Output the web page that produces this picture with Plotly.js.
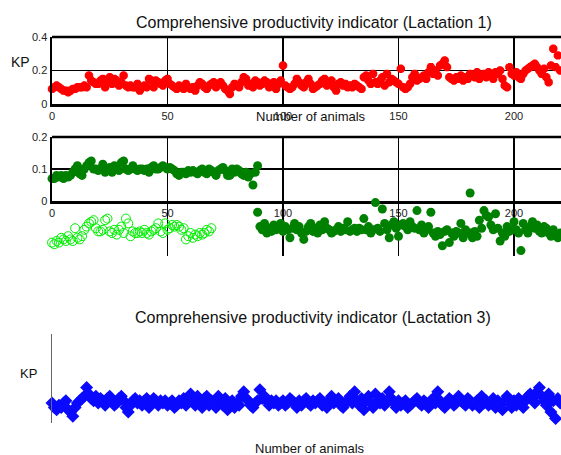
<!DOCTYPE html>
<html>
<head>
<meta charset="utf-8">
<script src="https://cdn.plot.ly/plotly-3.0.1.min.js"></script>
<style>html,body{margin:0;padding:0;background:#fff;}#chart{width:561px;height:455px;}</style>
</head>
<body>
<div id="chart"></div>
<script>
// Lactation 1 (KP per animal, index 0..220)
const lact1 = [
0.09,0.10,0.11,0.10,0.09,0.08,0.08,0.07,0.08,0.09,
0.09,0.10,0.10,0.10,0.11,0.10,0.17,0.14,0.13,0.12,
0.12,0.14,0.15,0.10,0.13,0.16,0.12,0.15,0.14,0.11,
0.13,0.17,0.11,0.10,0.11,0.10,0.10,0.12,0.08,0.10,
0.11,0.10,0.15,0.14,0.10,0.14,0.13,0.12,0.11,0.14,
0.15,0.12,0.11,0.10,0.09,0.11,0.10,0.09,0.12,0.10,
0.09,0.10,0.08,0.11,0.13,0.12,0.10,0.09,0.11,0.12,
0.13,0.10,0.12,0.13,0.11,0.09,0.08,0.06,0.10,0.12,
0.11,0.10,0.13,0.16,0.15,0.11,0.12,0.10,0.14,0.13,
0.11,0.12,0.14,0.13,0.10,0.12,0.13,0.09,0.12,0.14,
0.23,0.11,0.10,0.09,0.10,0.12,0.15,0.13,0.11,0.10,
0.13,0.15,0.12,0.09,0.10,0.11,0.12,0.14,0.15,0.11,
0.13,0.14,0.10,0.08,0.12,0.13,0.11,0.12,0.10,0.11,
0.10,0.12,0.11,0.10,0.09,0.16,0.17,0.14,0.12,0.18,
0.13,0.12,0.14,0.16,0.11,0.18,0.13,0.15,0.14,0.13,
0.12,0.21,0.10,0.09,0.10,0.12,0.16,0.18,0.14,0.15,
0.16,0.17,0.15,0.19,0.22,0.18,0.20,0.17,0.23,0.24,
0.26,0.22,0.16,0.15,0.14,0.16,0.15,0.17,0.14,0.16,
0.15,0.18,0.17,0.16,0.19,0.15,0.17,0.18,0.16,0.19,
0.17,0.15,0.19,0.18,0.20,0.15,0.11,0.10,0.22,0.18,
0.17,0.19,0.16,0.15,0.18,0.20,0.21,0.22,0.23,0.24,
0.22,0.20,0.18,0.21,0.16,0.13,0.23,0.33,0.22,0.29,
0.20];

// Lactation 2, points inside the frame (animals 0..89, plus one at 181)
const lact2InX = [];
const lact2In = [
0.07,0.07,0.08,0.075,0.08,0.07,0.08,0.075,0.08,0.09,
0.10,0.11,0.085,0.08,0.10,0.11,0.12,0.125,0.10,0.10,
0.095,0.10,0.115,0.09,0.10,0.105,0.09,0.11,0.10,0.095,
0.12,0.125,0.10,0.095,0.10,0.11,0.10,0.095,0.10,0.10,
0.095,0.10,0.09,0.105,0.11,0.10,0.10,0.105,0.11,0.105,
0.10,0.105,0.10,0.095,0.085,0.08,0.09,0.09,0.085,0.095,
0.09,0.095,0.09,0.085,0.095,0.10,0.09,0.085,0.10,0.095,
0.09,0.08,0.095,0.10,0.105,0.095,0.08,0.08,0.10,0.09,
0.10,0.095,0.085,0.08,0.09,0.075,0.085,0.05,0.09,0.11,
0.025];
for (let i = 0; i < 90; i++) lact2InX.push(i);
lact2InX.push(181);

// Lactation 2, points spilling below the frame (animals 89..220)
const lact2OutX = [];
const lact2Out = [
-0.035,-0.08,-0.09,-0.07,-0.10,-0.085,-0.095,-0.075,-0.09,-0.08,
-0.07,-0.095,-0.08,-0.09,-0.115,-0.085,-0.07,-0.09,-0.08,-0.10,
-0.12,-0.095,-0.08,-0.07,-0.095,-0.085,-0.10,-0.075,-0.09,-0.065,
-0.085,-0.09,-0.10,-0.095,-0.09,-0.08,-0.095,-0.085,-0.09,-0.065,
-0.095,-0.09,-0.085,-0.095,-0.085,-0.09,-0.055,-0.09,-0.08,-0.10,
-0.09,-0.005,-0.085,-0.095,-0.025,-0.07,-0.09,-0.115,-0.075,-0.065,
-0.085,-0.11,-0.075,-0.07,-0.08,-0.09,-0.065,-0.08,-0.085,-0.03,
-0.09,-0.075,-0.10,-0.09,-0.08,-0.035,-0.10,-0.11,-0.095,-0.105,
-0.14,-0.095,-0.09,-0.13,-0.10,-0.11,-0.095,-0.10,-0.07,-0.115,
-0.09,-0.10,-0.10,-0.115,-0.095,-0.11,-0.06,-0.085,-0.03,-0.045,
-0.05,-0.075,-0.09,-0.04,-0.085,-0.125,-0.10,-0.11,-0.08,-0.095,
-0.09,-0.065,-0.09,-0.10,-0.155,-0.07,-0.09,-0.10,-0.08,-0.065,
-0.085,-0.075,-0.095,-0.10,-0.08,-0.085,-0.10,-0.11,-0.09,-0.105,
-0.115,-0.10];
for (let i = 0; i < lact2Out.length; i++) lact2OutX.push(89 + i);

// Second Lactation 2 group (open circles), animals 0..69
const lact2bX = [];
const lact2b = [
-0.13,-0.135,-0.125,-0.13,-0.115,-0.12,-0.125,-0.11,-0.12,-0.125,
-0.085,-0.115,-0.12,-0.11,-0.09,-0.08,-0.07,-0.065,-0.06,-0.085,
-0.095,-0.095,-0.09,-0.06,-0.055,-0.095,-0.10,-0.09,-0.105,-0.09,
-0.08,-0.10,-0.055,-0.07,-0.11,-0.095,-0.10,-0.10,-0.095,-0.10,
-0.09,-0.10,-0.105,-0.095,-0.09,-0.085,-0.07,-0.095,-0.10,-0.07,
-0.09,-0.085,-0.075,-0.08,-0.075,-0.08,-0.09,-0.085,-0.12,-0.11,
-0.10,-0.115,-0.105,-0.11,-0.10,-0.105,-0.10,-0.09,-0.095,-0.085];
for (let i = 0; i < lact2b.length; i++) lact2bX.push(i);

// Lactation 3, animals 0..220
const lact3 = [
0.09,0.07,0.06,0.08,0.07,0.09,0.10,0.06,0.05,0.03,
0.07,0.09,0.10,0.11,0.12,0.16,0.13,0.11,0.10,0.12,
0.09,0.11,0.10,0.08,0.11,0.12,0.10,0.08,0.09,0.11,
0.12,0.10,0.07,0.05,0.08,0.10,0.11,0.09,0.10,0.08,
0.10,0.11,0.07,0.09,0.11,0.10,0.08,0.10,0.09,0.10,
0.08,0.09,0.10,0.07,0.08,0.10,0.09,0.11,0.08,0.10,
0.13,0.10,0.08,0.12,0.09,0.07,0.11,0.12,0.08,0.10,
0.09,0.07,0.12,0.10,0.08,0.11,0.06,0.09,0.10,0.07,
0.09,0.08,0.12,0.14,0.11,0.10,0.08,0.07,0.09,0.10,
0.15,0.11,0.12,0.10,0.08,0.10,0.09,0.10,0.08,0.09,
0.10,0.08,0.09,0.11,0.10,0.09,0.07,0.10,0.08,0.10,
0.11,0.09,0.08,0.10,0.09,0.10,0.11,0.08,0.09,0.07,
0.10,0.12,0.09,0.10,0.11,0.08,0.07,0.09,0.10,0.12,
0.09,0.14,0.10,0.08,0.11,0.06,0.10,0.12,0.09,0.07,
0.13,0.10,0.09,0.11,0.08,0.10,0.14,0.11,0.09,0.07,
0.10,0.08,0.09,0.10,0.07,0.08,0.09,0.10,0.11,0.09,
0.08,0.10,0.09,0.07,0.10,0.11,0.09,0.14,0.10,0.08,
0.07,0.09,0.11,0.10,0.08,0.09,0.12,0.10,0.09,0.08,
0.11,0.10,0.08,0.09,0.10,0.07,0.12,0.09,0.10,0.08,
0.09,0.11,0.07,0.10,0.08,0.06,0.10,0.12,0.09,0.07,
0.10,0.08,0.11,0.09,0.07,0.10,0.12,0.13,0.11,0.09,
0.14,0.16,0.12,0.10,0.08,0.13,0.05,0.10,0.02,0.11,
0.09];

const idx = a => a.map((_, i) => i);
const xTicks = [0, 50, 100, 150, 200];
const xTickText = ['0', '50', '100', '150', '200'];

const tickFont = {family: 'Liberation Sans, Arial, sans-serif', size: 11, color: '#222'};
const fam = 'Liberation Sans, Arial, sans-serif';

const traces = [
  {x: idx(lact1), y: lact1, xaxis: 'x', yaxis: 'y', type: 'scatter', mode: 'markers', cliponaxis: false,
   marker: {symbol: 'asterisk-open', size: 7, color: '#ff0000', line: {color: '#ff0000', width: 3}}},
  {x: lact2InX, y: lact2In, xaxis: 'x2', yaxis: 'y2', type: 'scatter', mode: 'markers', cliponaxis: false,
   marker: {symbol: 'circle', size: 9, color: '#008000'}},
  {x: lact2OutX, y: lact2Out, xaxis: 'x2', yaxis: 'y3', type: 'scatter', mode: 'markers', cliponaxis: false,
   marker: {symbol: 'circle', size: 9, color: '#008000'}},
  {x: lact2bX, y: lact2b, xaxis: 'x2', yaxis: 'y3', type: 'scatter', mode: 'markers', cliponaxis: false,
   marker: {symbol: 'circle-open', size: 9, color: '#00ee00', line: {color: '#00ee00', width: 1}}},
  {x: idx(lact3), y: lact3, xaxis: 'x3', yaxis: 'y4', type: 'scatter', mode: 'markers', cliponaxis: false,
   marker: {symbol: 'diamond', size: 10, color: '#0a0aff'}}
];

const xDom = [52 / 561, 1];
const xr = [0, (561 - 52) / 2.31];
const py = p => 1 - p / 455;

const xCommon = {
  domain: xDom, range: xr, tickvals: xTicks, ticktext: xTickText, ticks: '',
  showgrid: true, gridcolor: '#000', gridwidth: 1.3, zeroline: false,
  showline: true, linecolor: '#000', linewidth: 2.5, tickfont: tickFont
};

const layout = {
  width: 561, height: 455,
  margin: {l: 0, r: 0, t: 0, b: 0},
  paper_bgcolor: '#fff', plot_bgcolor: '#fff',
  showlegend: false,
  xaxis: Object.assign({}, xCommon, {anchor: 'y'}),
  yaxis: {domain: [py(104), py(37)], range: [0, 0.4], tickvals: [0, 0.2, 0.4], ticktext: ['0', '0.2', '0.4'],
          ticks: '', showgrid: true, gridcolor: '#000', gridwidth: 1.3, zeroline: false,
          showline: true, linecolor: '#000', linewidth: 2.5, tickfont: tickFont, anchor: 'x'},
  xaxis2: Object.assign({}, xCommon, {anchor: 'y2'}),
  yaxis2: {domain: [py(201), py(137)], range: [0, 0.2], tickvals: [0, 0.1, 0.2], ticktext: ['0', '0.1', '0.2'],
           ticks: '', showgrid: true, gridcolor: '#000', gridwidth: 1.3, zeroline: false,
           showline: true, linecolor: '#000', linewidth: 2.5, tickfont: tickFont, anchor: 'x2'},
  yaxis3: {domain: [py(256), py(201)], range: [-55 / 320, 0], showgrid: false, zeroline: false,
           showline: false, showticklabels: false, ticks: '', anchor: 'x2'},
  xaxis3: {domain: xDom, range: xr, showgrid: false, zeroline: false, showline: false,
           showticklabels: false, ticks: '', anchor: 'y4'},
  yaxis4: {domain: [py(423), py(334)], range: [0, 0.4], showgrid: false, zeroline: false,
           showline: true, linecolor: '#666', linewidth: 1.3, showticklabels: false, ticks: '', anchor: 'x3'},
  shapes: [
    {type: 'line', xref: 'x domain', yref: 'y domain', x0: 0, x1: 1, y0: 1, y1: 1, line: {color: '#000', width: 2.5}},
    {type: 'line', xref: 'x2 domain', yref: 'y2 domain', x0: 0, x1: 1, y0: 1, y1: 1, line: {color: '#000', width: 2.5}}
  ],
  annotations: [
    {text: 'Comprehensive productivity indicator (Lactation 1)', xref: 'paper', yref: 'paper',
     x: 314 / 561, y: py(22), xanchor: 'center', yanchor: 'middle', showarrow: false,
     font: {family: fam, size: 16, color: '#111'}},
    {text: 'KP', xref: 'paper', yref: 'paper', x: 20 / 561, y: py(62), xanchor: 'center', yanchor: 'middle',
     showarrow: false, font: {family: fam, size: 14, color: '#111'}},
    {text: 'Number of animals', xref: 'paper', yref: 'paper', x: 311 / 561, y: py(117), xanchor: 'center',
     yanchor: 'middle', showarrow: false, font: {family: fam, size: 13, color: '#111'}},
    {text: 'Comprehensive productivity indicator (Lactation 3)', xref: 'paper', yref: 'paper',
     x: 313 / 561, y: py(317), xanchor: 'center', yanchor: 'middle', showarrow: false,
     font: {family: fam, size: 16, color: '#111'}},
    {text: 'KP', xref: 'paper', yref: 'paper', x: 28 / 561, y: py(373), xanchor: 'center', yanchor: 'middle',
     showarrow: false, font: {family: fam, size: 13, color: '#111'}},
    {text: 'Number of animals', xref: 'paper', yref: 'paper', x: 310 / 561, y: py(448), xanchor: 'center',
     yanchor: 'middle', showarrow: false, font: {family: fam, size: 13, color: '#111'}}
  ]
};

Plotly.newPlot('chart', traces, layout, {staticPlot: true, displayModeBar: false});
</script>
</body>
</html>
